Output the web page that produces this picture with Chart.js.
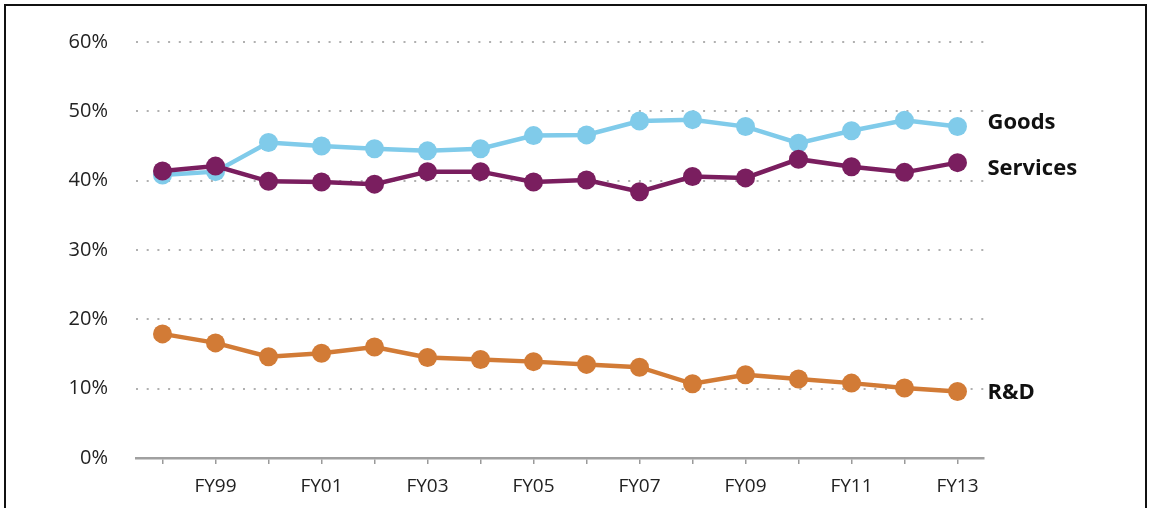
<!DOCTYPE html>
<html>
<head>
<meta charset="utf-8">
<script src="https://cdn.jsdelivr.net/npm/chart.js@4/dist/chart.umd.min.js"></script>
<style>
  html, body { margin: 0; padding: 0; background: #fff; }
  #wrap { position: relative; width: 1151px; height: 508px; overflow: hidden; }
  #frame { position: absolute; left: 4px; top: 4px; width: 1143px; height: 520px; border: 2px solid #111; box-sizing: border-box; pointer-events: none; }
  canvas { position: absolute; left: 0; top: 0; }
</style>
</head>
<body>
<div id="wrap">
  <canvas id="c" width="1151" height="508"></canvas>
  <div id="frame"></div>
</div>
<script>
const categories = ['FY98','FY99','FY00','FY01','FY02','FY03','FY04','FY05','FY06','FY07','FY08','FY09','FY10','FY11','FY12','FY13'];
const goods    = [40.8, 41.3, 45.5, 45.0, 44.6, 44.3, 44.6, 46.5, 46.6, 48.6, 48.8, 47.8, 45.4, 47.2, 48.7, 47.8];
const services = [41.4, 42.1, 39.9, 39.8, 39.5, 41.3, 41.3, 39.8, 40.1, 38.4, 40.6, 40.4, 43.1, 42.0, 41.2, 42.6];
const rnd      = [17.9, 16.6, 14.6, 15.1, 16.0, 14.5, 14.2, 13.9, 13.5, 13.1, 10.7, 12.0, 11.4, 10.8, 10.1, 9.6];
const yTicks   = [0, 10, 20, 30, 40, 50, 60];

const FONT = '"Open Sans", "Noto Sans", sans-serif';

const endLabels = {
  id: 'endLabels',
  afterDatasetsDraw(chart) {
    const ctx = chart.ctx;
    ctx.save();
    ctx.font = 'bold 22px ' + FONT;
    ctx.fillStyle = '#111';
    ctx.textAlign = 'left';
    ctx.textBaseline = 'middle';
    chart.data.datasets.forEach((ds, i) => {
      const meta = chart.getDatasetMeta(i);
      const pt = meta.data[meta.data.length - 1];
      ctx.fillText(ds.label, pt.x + 30, pt.y + (ds.labelDy || 0));
    });
    ctx.restore();
  }
};

new Chart(document.getElementById('c'), {
  type: 'line',
  data: {
    labels: categories,
    datasets: [
      { label: 'Goods', data: goods, borderColor: '#80CBEA', backgroundColor: '#80CBEA', labelDy: -4, order: 3 },
      { label: 'Services', data: services, borderColor: '#7A1E5F', backgroundColor: '#7A1E5F', labelDy: 6, order: 2 },
      { label: 'R&D', data: rnd, borderColor: '#D27B36', backgroundColor: '#D27B36', labelDy: 1, order: 1 }
    ].map(d => Object.assign({
      borderWidth: 4.5,
      pointRadius: 9.5,
      pointHoverRadius: 9.5,
      pointBorderWidth: 0,
      tension: 0,
      fill: false
    }, d))
  },
  options: {
    responsive: false,
    animation: false,
    events: [],
    layout: { padding: { left: 0, right: 167, top: 42, bottom: 0 } },
    plugins: { legend: { display: false }, tooltip: { enabled: false } },
    scales: {
      x: {
        offset: true,
        grid: {
          offset: false,
          drawOnChartArea: false,
          drawTicks: true,
          tickLength: 6,
          color: '#9a9a9a',
          lineWidth: 1.5
        },
        border: { display: true, color: '#a0a0a0', width: 2.5 },
        ticks: {
          autoSkip: false,
          maxRotation: 0,
          padding: 11,
          color: '#222',
          font: { family: FONT, size: 19 },
          callback: function(v, i) { return i % 2 === 1 ? categories[i] : ''; }
        },
        afterFit: s => { s.height = 50; }
      },
      y: {
        min: 0,
        max: 60,
        afterBuildTicks: s => { s.ticks = yTicks.map(v => ({ value: v })); },
        grid: {
          drawTicks: false,
          color: ctx => ctx.tick && ctx.tick.value === 0 ? 'rgba(0,0,0,0)' : '#b0b0b0',
          lineWidth: 2
        },
        border: { display: false, dash: [2, 8.7] },
        ticks: {
          padding: 28,
          color: '#222',
          font: { family: FONT, size: 20 },
          callback: v => v + '%'
        },
        afterFit: s => { s.width = 136; }
      }
    }
  },
  plugins: [endLabels]
});
</script>
</body>
</html>
